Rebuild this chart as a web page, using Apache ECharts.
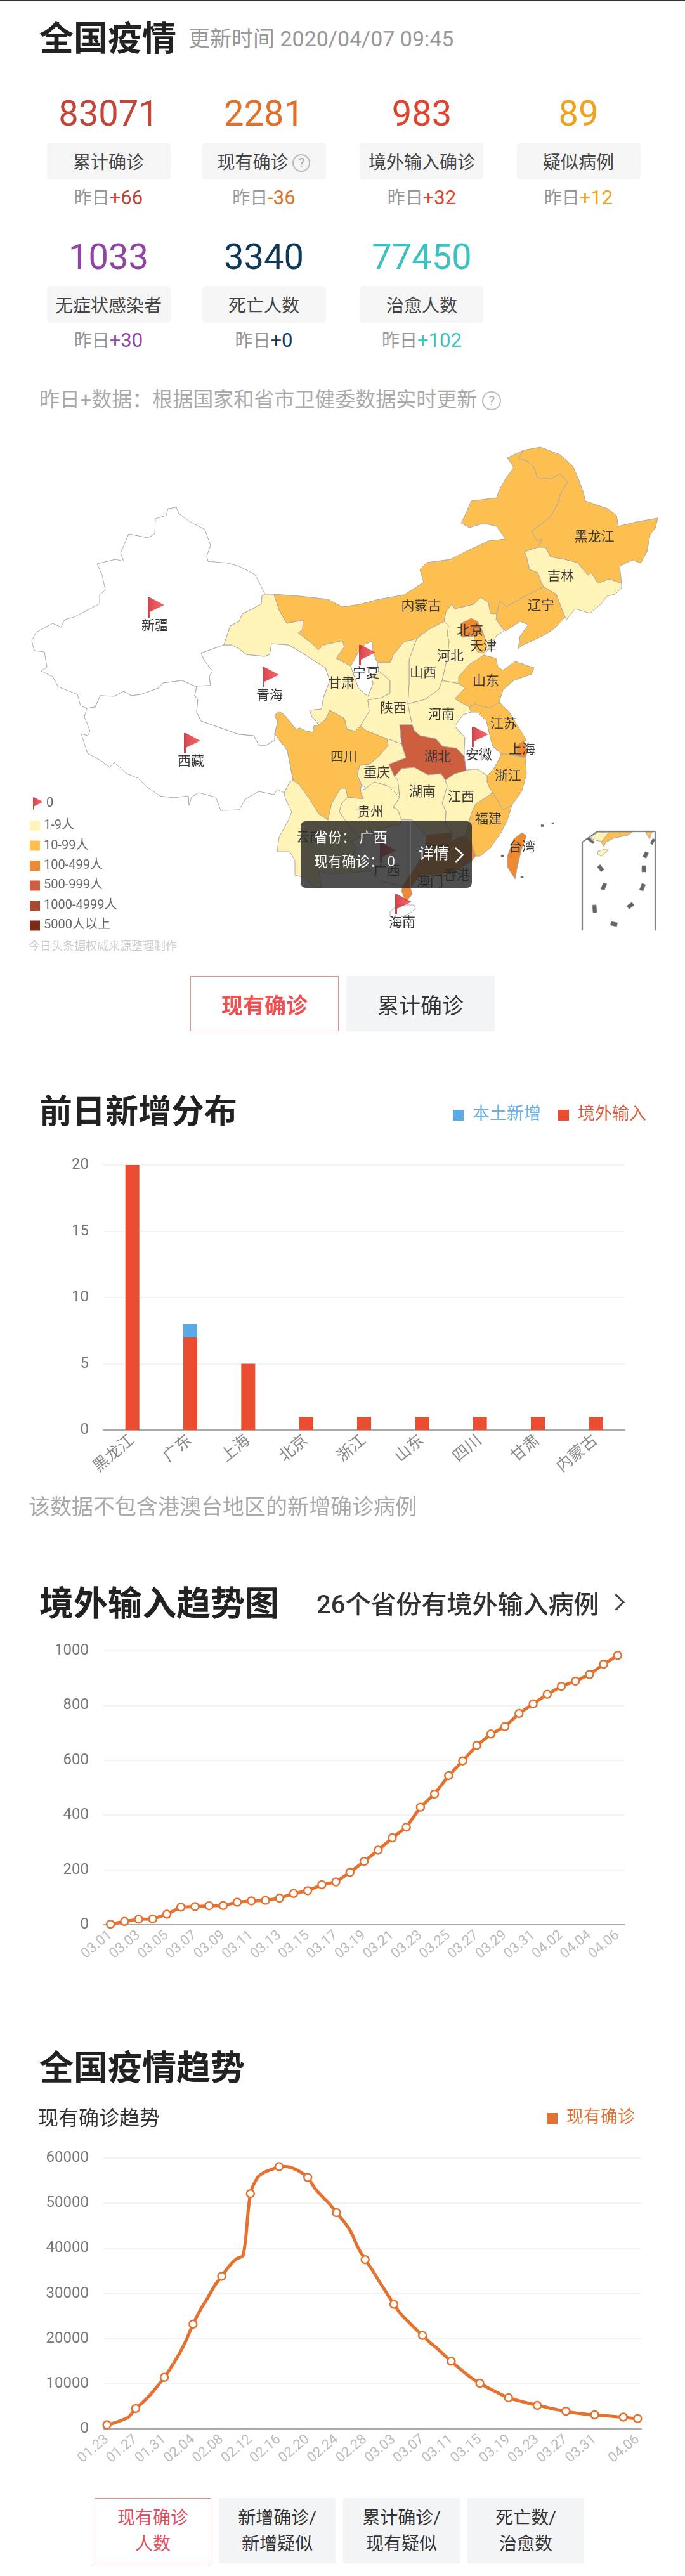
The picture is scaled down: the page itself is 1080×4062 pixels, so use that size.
<!DOCTYPE html>
<html>
<head>
<meta charset="utf-8">
<title>全国疫情</title>
<script src="https://cdn.jsdelivr.net/npm/echarts@6/dist/echarts.min.js"></script>
<style>
    html, body { margin: 0; padding: 0; background: #fff; }
    #page { position: relative; width: 1080px; height: 4062px; overflow: hidden; background: #fff;
        font-family: Roboto, "Noto Sans CJK SC", sans-serif; }
    #page .t { position: absolute; white-space: nowrap; transform: translateY(-50%); z-index: 2; }
    #page .box { position: absolute; box-sizing: border-box; z-index: 2; }
    .chart { position: absolute; left: 0; width: 1080px; }
    #top-line { position: absolute; left: 0; top: 0; width: 1080px; height: 2px; background: #333; }
    .help { display: inline-block; box-sizing: border-box; border: 2px solid #bbb; border-radius: 50%; color: #aaa;
        text-align: center; font-size: 20px; }
    #more-arrow { position: absolute; left: 962px; top: 2517px; width: 16px; height: 16px; z-index: 2;
        border-top: 3px solid #444; border-right: 3px solid #444; transform: rotate(45deg); }
</style>
</head>
<body>
<div id="page">
    <div id="top-line"></div>
    <div id="more-arrow"></div>
    <div class="chart" id="main-map" style="top:680px;height:880px"></div>
    <div class="chart" id="main-bar" style="top:1700px;height:680px"></div>
    <div class="chart" id="main-abroad" style="top:2540px;height:620px"></div>
    <div class="chart" id="main-trend" style="top:3300px;height:630px"></div>
</div>
<script>
// 顶部数字卡片
const cardNumbers = ['83071', '2281', '983', '89', '1033', '3340', '77450'];
const cardLabels = ['累计确诊', '现有确诊', '境外输入确诊', '疑似病例', '无症状感染者', '死亡人数', '治愈人数'];
const cardDeltas = ['+66', '-36', '+32', '+12', '+30', '+0', '+102'];
const cardColors = ['#c0453a', '#de7029', '#e0432e', '#eca321', '#8e46a3', '#0f3a57', '#3fc0c0'];

// 地图：现有确诊（按颜色档位估读）
const mapNames = ['新疆', '西藏', '青海', '甘肃', '宁夏', '内蒙古', '黑龙江', '吉林', '辽宁', '河北', '北京', '天津',
    '山西', '陕西', '山东', '河南', '江苏', '上海', '安徽', '浙江', '江西', '福建', '湖北', '湖南', '重庆', '四川',
    '贵州', '云南', '广西', '广东', '海南', '台湾', '香港', '澳门'];
const mapValues = [0, 0, 0, 3, 0, 35, 60, 2, 12, 8, 150, 20,
    6, 7, 30, 5, 12, 140, 0, 20, 1, 25, 700, 1, 3, 30,
    1, 5, 0, 190, 0, 300, 650, 15];
const legendPieces = [
    { min: 1, max: 9, label: '1-9人', color: '#fff3b8' },
    { min: 10, max: 99, label: '10-99人', color: '#fdbf50' },
    { min: 100, max: 499, label: '100-499人', color: '#ef8a33' },
    { min: 500, max: 999, label: '500-999人', color: '#cd5f3e' },
    { min: 1000, max: 4999, label: '1000-4999人', color: '#a84a2f' },
    { min: 5000, label: '5000人以上', color: '#7c2a12' }
];

// 前日新增分布
const barCategories = ['黑龙江', '广东', '上海', '北京', '浙江', '山东', '四川', '甘肃', '内蒙古'];
const barLocal = [0, 1, 0, 0, 0, 0, 0, 0, 0];
const barAbroad = [20, 7, 5, 1, 1, 1, 1, 1, 1];

// 境外输入趋势
const abroadDates = ['03.01', '03.02', '03.03', '03.04', '03.05', '03.06', '03.07', '03.08', '03.09', '03.10',
    '03.11', '03.12', '03.13', '03.14', '03.15', '03.16', '03.17', '03.18', '03.19', '03.20', '03.21', '03.22',
    '03.23', '03.24', '03.25', '03.26', '03.27', '03.28', '03.29', '03.30', '03.31', '04.01', '04.02', '04.03',
    '04.04', '04.05', '04.06'];
const abroadValues = [2, 12, 20, 21, 38, 64, 66, 69, 70, 82, 87, 89, 97, 114, 124, 146, 156, 191, 231, 272, 317, 356,
    429, 477, 544, 598, 654, 696, 723, 771, 806, 841, 870, 889, 913, 951, 983];

// 全国现有确诊趋势
const trendDates = ['01.23', '01.24', '01.25', '01.26', '01.27', '01.28', '01.29', '01.30', '01.31',
    '02.01', '02.02', '02.03', '02.04', '02.05', '02.06', '02.07', '02.08', '02.09', '02.10', '02.11', '02.12',
    '02.13', '02.14', '02.15', '02.16', '02.17', '02.18', '02.19', '02.20', '02.21', '02.22', '02.23', '02.24',
    '02.25', '02.26', '02.27', '02.28', '02.29', '03.01', '03.02', '03.03', '03.04', '03.05', '03.06', '03.07',
    '03.08', '03.09', '03.10', '03.11', '03.12', '03.13', '03.14', '03.15', '03.16', '03.17', '03.18', '03.19',
    '03.20', '03.21', '03.22', '03.23', '03.24', '03.25', '03.26', '03.27', '03.28', '03.29', '03.30', '03.31',
    '04.01', '04.02', '04.03', '04.04', '04.05', '04.06'];
const trendValues = [900, 1300, 1900, 2600, 4500, 5900, 7500, 9400, 11400,
    13800, 16400, 19500, 23200, 26300, 28900, 31700, 33800, 36000, 37600, 38500, 52100,
    55700, 56900, 57500, 58100, 58100, 57700, 56900, 55700, 53300, 51500, 49900, 47900,
    46000, 43700, 40200, 37500, 35200, 32600, 30100, 27600, 25400, 23800, 22200, 20700,
    19200, 17900, 16400, 15000, 13600, 12300, 11100, 10100, 9200, 8400, 7600, 6900,
    6400, 6000, 5600, 5200, 4900, 4500, 4200, 3900, 3600, 3400, 3200, 3100,
    2950, 2850, 2700, 2600, 2400, 2281];

// 省份轮廓（照着图描的，单位是页面像素，y 向下），cp 是标签位置
const shapes = {
    '新疆': { cp: [244, 988], pts: [[418,937],[402,906],[377,893],[360,888],[328,885],[326,877],[332,860],[323,835],[300,823],[282,810],[278,800],[265,802],[262,813],[245,818],[244,842],[233,848],[203,842],[190,872],[195,885],[182,882],[153,889],[161,907],[166,930],[157,938],[157,952],[117,973],[102,977],[96,989],[83,983],[57,997],[50,1010],[54,1026],[70,1028],[74,1052],[65,1058],[83,1067],[92,1083],[122,1095],[127,1113],[137,1117],[150,1115],[158,1097],[180,1098],[195,1090],[207,1097],[222,1095],[250,1085],[257,1077],[287,1073],[307,1082],[332,1081],[330,1067],[335,1058],[323,1043],[317,1030],[353,1017],[363,987],[377,980],[382,968],[398,960],[412,952],[413,940]] },
    '西藏': { cp: [301, 1202], pts: [[137,1117],[150,1115],[158,1097],[180,1098],[195,1090],[207,1097],[222,1095],[250,1085],[257,1077],[287,1073],[307,1082],[310,1083],[307,1097],[312,1103],[310,1123],[317,1137],[340,1145],[377,1158],[400,1160],[408,1175],[420,1175],[433,1167],[433,1157],[453,1183],[462,1230],[457,1233],[448,1250],[437,1245],[432,1253],[408,1248],[387,1260],[377,1277],[348,1278],[340,1257],[313,1250],[302,1257],[298,1270],[297,1255],[273,1258],[252,1255],[233,1242],[217,1227],[200,1220],[180,1202],[173,1210],[160,1200],[138,1188],[128,1157],[138,1160],[142,1153],[133,1130]] },
    '青海': { cp: [425, 1098], pts: [[353,1017],[365,1017],[377,1023],[388,1032],[417,1035],[425,1032],[428,1015],[455,1017],[477,1030],[513,1053],[520,1073],[510,1100],[507,1118],[488,1120],[492,1130],[503,1143],[495,1145],[493,1155],[480,1152],[473,1148],[467,1150],[448,1127],[440,1122],[433,1128],[438,1138],[433,1157],[433,1167],[420,1175],[408,1175],[400,1160],[377,1158],[340,1145],[317,1137],[310,1123],[312,1103],[307,1097],[310,1083],[307,1082],[332,1081],[330,1067],[335,1058],[323,1043],[317,1030]] },
    '甘肃': { cp: [538, 1079], pts: [[413,940],[418,937],[432,937],[440,962],[452,983],[478,978],[477,993],[470,998],[490,1013],[502,1025],[510,1017],[540,1010],[543,1020],[530,1038],[553,1050],[565,1085],[580,1098],[588,1078],[585,1065],[597,1058],[615,1073],[615,1093],[602,1100],[580,1104],[582,1122],[568,1145],[560,1153],[547,1150],[543,1133],[520,1120],[513,1135],[503,1143],[492,1130],[488,1120],[507,1118],[510,1100],[520,1073],[513,1053],[477,1030],[455,1017],[428,1015],[425,1032],[417,1035],[388,1032],[377,1023],[365,1017],[353,1017],[363,987],[377,980],[382,968],[398,960],[412,952]] },
    '宁夏': { cp: [577, 1063], pts: [[553,1050],[568,1023],[577,1015],[587,1011],[587,1025],[595,1045],[597,1058],[585,1065],[588,1078],[580,1098],[565,1085]] },
    '内蒙古': { cp: [664, 957], pts: [[432,937],[473,940],[517,945],[540,957],[567,953],[597,945],[637,938],[668,918],[662,898],[673,887],[710,882],[740,867],[770,853],[797,850],[783,830],[763,825],[740,832],[727,825],[732,815],[743,790],[783,785],[787,773],[797,755],[810,737],[800,722],[825,710],[818,723],[833,728],[842,737],[847,753],[868,755],[883,747],[895,760],[883,780],[880,793],[868,815],[838,838],[847,853],[855,850],[848,863],[827,870],[830,877],[835,898],[848,903],[853,917],[857,925],[833,937],[798,957],[788,947],[783,968],[773,967],[770,950],[758,942],[747,953],[717,960],[712,953],[703,965],[700,980],[677,992],[657,1007],[637,1012],[620,1033],[615,1045],[595,1045],[587,1025],[587,1011],[577,1015],[568,1023],[553,1050],[530,1038],[543,1020],[540,1010],[510,1017],[502,1025],[490,1013],[470,998],[477,993],[478,978],[452,983],[440,962]] },
    '黑龙江': { cp: [937, 848], pts: [[825,710],[852,705],[883,717],[903,735],[912,755],[920,777],[923,790],[958,802],[972,813],[975,830],[1003,823],[1037,817],[1033,833],[1025,843],[1020,870],[1010,888],[997,883],[977,893],[980,920],[960,913],[943,920],[932,903],[927,907],[910,887],[890,882],[868,878],[860,863],[848,863],[855,850],[847,853],[838,838],[868,815],[880,793],[883,780],[895,760],[883,747],[868,755],[847,753],[842,737],[833,728],[818,723]] },
    '吉林': { cp: [884, 910], pts: [[827,870],[848,863],[860,863],[868,878],[890,882],[910,887],[927,907],[932,903],[943,920],[960,913],[980,920],[980,927],[970,937],[957,940],[947,953],[930,967],[907,960],[893,977],[891,973],[883,953],[877,937],[857,925],[853,917],[848,903],[835,898],[830,877]] },
    '辽宁': { cp: [853, 956], pts: [[857,925],[877,937],[883,953],[891,973],[873,992],[857,1002],[823,1018],[817,1023],[820,1003],[833,985],[820,980],[797,995],[782,977],[783,968],[788,947],[798,957],[833,937]] },
    '河北': { cp: [710, 1036], pts: [[703,965],[712,953],[717,960],[747,953],[758,942],[770,950],[773,967],[783,968],[782,977],[795,995],[783,1002],[773,1020],[763,1033],[758,1037],[740,1048],[730,1063],[723,1078],[697,1073],[705,1037],[708,1012],[705,1000],[707,987],[700,980]] },
    '北京': { cp: [741, 996], pts: [[727,983],[743,975],[753,980],[762,997],[748,1003],[730,1005],[725,997]] },
    '天津': { cp: [762, 1020], pts: [[748,1003],[762,998],[767,1017],[763,1030],[753,1028],[747,1017]] },
    '山西': { cp: [667, 1062], pts: [[657,1007],[677,992],[700,980],[707,987],[705,1000],[708,1012],[705,1037],[697,1073],[692,1087],[670,1103],[643,1110],[645,1077],[645,1040]] },
    '陕西': { cp: [620, 1118], pts: [[595,1045],[615,1045],[620,1033],[637,1012],[657,1007],[645,1040],[645,1077],[643,1110],[650,1143],[633,1143],[632,1157],[630,1172],[610,1165],[577,1152],[568,1145],[582,1122],[580,1104],[602,1100],[615,1093],[615,1073],[597,1058]] },
    '山东': { cp: [766, 1075], pts: [[723,1078],[723,1067],[740,1048],[763,1033],[782,1038],[785,1052],[793,1057],[812,1043],[842,1053],[838,1063],[810,1073],[793,1088],[787,1107],[772,1117],[748,1110],[740,1115],[717,1102],[733,1085]] },
    '河南': { cp: [696, 1128], pts: [[643,1110],[670,1103],[692,1087],[697,1073],[723,1078],[733,1085],[717,1102],[740,1115],[743,1123],[730,1127],[717,1145],[733,1163],[732,1183],[732,1193],[720,1180],[698,1177],[687,1165],[662,1160],[653,1152],[650,1143]] },
    '江苏': { cp: [794, 1143], pts: [[740,1115],[748,1110],[772,1117],[787,1107],[803,1123],[815,1143],[830,1167],[815,1175],[815,1192],[803,1190],[790,1188],[777,1177],[773,1163],[767,1137],[753,1123],[743,1123]] },
    '上海': { cp: [823, 1183], pts: [[815,1175],[826,1168],[832,1185],[828,1195],[815,1192]] },
    '安徽': { cp: [755, 1192], pts: [[743,1123],[753,1123],[767,1137],[773,1163],[777,1177],[790,1188],[788,1195],[778,1213],[768,1223],[753,1213],[743,1213],[735,1215],[732,1193],[732,1183],[733,1163],[717,1145],[730,1127]] },
    '浙江': { cp: [801, 1225], pts: [[790,1188],[803,1190],[815,1192],[828,1195],[830,1220],[823,1247],[807,1270],[793,1277],[777,1250],[772,1243],[768,1233],[768,1223],[778,1213],[788,1195]] },
    '江西': { cp: [727, 1258], pts: [[735,1215],[743,1213],[753,1213],[768,1223],[768,1233],[772,1243],[777,1250],[750,1268],[743,1283],[733,1320],[725,1320],[710,1328],[713,1313],[702,1300],[703,1280],[697,1267],[705,1240],[702,1230],[717,1220]] },
    '福建': { cp: [770, 1293], pts: [[777,1250],[793,1277],[807,1270],[800,1293],[790,1313],[773,1337],[757,1350],[750,1350],[743,1328],[733,1320],[743,1283],[750,1268]] },
    '湖北': { cp: [690, 1195], pts: [[630,1143],[650,1143],[653,1152],[662,1160],[687,1165],[698,1177],[720,1180],[732,1193],[735,1215],[717,1220],[702,1230],[695,1220],[675,1222],[653,1210],[633,1212],[622,1225],[613,1205],[640,1195],[633,1173],[632,1158]] },
    '湖南': { cp: [666, 1250], pts: [[622,1225],[633,1212],[653,1210],[675,1222],[695,1220],[702,1230],[705,1240],[697,1267],[703,1280],[702,1300],[713,1313],[673,1317],[667,1313],[650,1293],[633,1293],[627,1277],[620,1273],[630,1257],[627,1230]] },
    '重庆': { cp: [594, 1220], pts: [[610,1165],[630,1172],[633,1173],[640,1195],[613,1205],[622,1225],[627,1230],[630,1257],[623,1250],[613,1240],[590,1233],[577,1243],[570,1237],[563,1222],[567,1207],[582,1205],[597,1193],[612,1175]] },
    '四川': { cp: [542, 1195], pts: [[433,1157],[438,1138],[433,1128],[440,1122],[448,1127],[467,1150],[473,1148],[480,1152],[493,1155],[495,1145],[503,1143],[513,1135],[520,1120],[543,1133],[547,1150],[560,1153],[568,1145],[577,1152],[610,1165],[612,1175],[597,1193],[582,1205],[567,1207],[563,1222],[570,1237],[568,1247],[573,1260],[548,1257],[545,1243],[537,1243],[523,1267],[517,1293],[502,1283],[488,1260],[472,1238],[462,1230],[453,1183]] },
    '贵州': { cp: [584, 1282], pts: [[548,1257],[573,1260],[568,1247],[577,1243],[590,1233],[613,1240],[623,1250],[630,1257],[620,1273],[627,1277],[633,1293],[630,1300],[613,1303],[587,1313],[567,1320],[553,1307],[547,1297],[535,1280],[538,1268]] },
    '云南': { cp: [488, 1322], pts: [[448,1250],[457,1233],[462,1230],[472,1238],[488,1260],[502,1283],[517,1293],[523,1267],[537,1243],[545,1243],[548,1257],[538,1268],[535,1280],[547,1297],[553,1307],[567,1320],[553,1327],[563,1337],[557,1347],[585,1373],[547,1377],[517,1377],[503,1373],[507,1400],[497,1400],[478,1383],[465,1380],[465,1357],[457,1343],[437,1343],[440,1320],[455,1293],[460,1280],[450,1260]] },
    '广西': { cp: [610, 1375], pts: [[567,1320],[587,1313],[613,1303],[630,1300],[633,1293],[650,1293],[667,1313],[673,1317],[670,1340],[658,1363],[635,1397],[600,1390],[585,1373],[557,1347],[563,1337],[553,1327]] },
    '广东': { cp: [689, 1342], pts: [[673,1317],[713,1313],[710,1328],[725,1320],[733,1320],[743,1328],[750,1350],[743,1358],[725,1370],[697,1377],[675,1380],[660,1383],[647,1400],[650,1410],[640,1422],[633,1405],[635,1397],[658,1363],[670,1340]] },
    '海南': { cp: [634, 1456], pts: [[627,1427],[653,1427],[655,1433],[643,1442],[627,1448],[615,1445],[615,1438]] },
    '台湾': { cp: [823, 1337], pts: [[823,1313],[830,1318],[822,1340],[815,1370],[812,1386],[800,1367],[800,1350],[810,1323]] },
    '香港': { cp: [720, 1382], pts: [[713,1373],[720,1371],[722,1376],[715,1378]] },
    '澳门': { cp: [678, 1392], pts: [[694,1378],[698,1377],[699,1381],[695,1382]] }
};
// 南海小图里的陆地，不显示标签
const insetLand = {
    '小图云南': { value: 5, pts: [[943,1312],[960,1313],[953,1322],[948,1327],[940,1325],[930,1322]] },
    '小图广东': { value: 30, pts: [[960,1312],[997,1312],[990,1317],[967,1322],[955,1328],[952,1335],[948,1328]] },
    '小图台湾': { value: 30, pts: [[1018,1312],[1028,1312],[1024,1323]] },
    '小图海南': { value: 5, pts: [[943,1342],[957,1338],[957,1343],[948,1350],[942,1347]] }
};

// 把线段加粗成细长的多边形，小图的边框和九段线都这样画
function strip(x1, y1, x2, y2, w) {
    let len = Math.hypot(x2 - x1, y2 - y1);
    let nx = -(y2 - y1) / len * w / 2;
    let ny = (x2 - x1) / len * w / 2;
    return [[x1 + nx, y1 + ny], [x2 + nx, y2 + ny], [x2 - nx, y2 - ny], [x1 - nx, y1 - ny]];
}
const insetLines = [
    strip(918, 1467, 918, 1328, 1.5), strip(918, 1328, 942, 1311, 1.5), strip(942, 1311, 1033, 1311, 1.5), strip(1033, 1311, 1033, 1467, 1.5),
    strip(927, 1322, 936, 1329, 4), strip(1027, 1331, 1031, 1323, 4), strip(1016, 1352, 1020, 1344, 6), strip(1015, 1375, 1015, 1365, 6),
    strip(1011, 1404, 1015, 1394, 6), strip(990, 1431, 998, 1425, 6), strip(963, 1456, 973, 1458, 6), strip(937, 1427, 938, 1439, 6),
    strip(950, 1403, 954, 1393, 6), strip(944, 1365, 950, 1373, 6)
];
// 钓鱼岛等小岛
const smallIslands = [strip(853, 1302, 857, 1302, 3), strip(870, 1298, 873, 1298, 2), strip(790, 1350, 794, 1350, 3), strip(821, 1383, 825, 1383, 2)];

// 地图各省的值按名字查，0 的省份插红旗
const flagPath = 'path://M0,0L3,0L26,12L3,23L3,32L0,32Z';
const flagData = mapNames.filter(function (name, i) { return mapValues[i] === 0; }).map(function (name) {
    return { name: name, value: [shapes[name].cp[0], -shapes[name].cp[1], 0] };
});

function toFeature(name, polygons, cp) {
    let rings = polygons.map(function (pts) {
        let ring = pts.map(function (p) { return [p[0], -p[1]]; });
        ring.push(ring[0]);
        return [ring];
    });
    return {
        type: 'Feature',
        properties: cp ? { name: name, cp: [cp[0], -cp[1]] } : { name: name },
        geometry: { type: 'MultiPolygon', coordinates: rings }
    };
}
let features = mapNames.map(function (name) { return toFeature(name, [shapes[name].pts], shapes[name].cp); });
Object.keys(insetLand).forEach(function (name) { features.push(toFeature(name, [insetLand[name].pts])); });
features.push(toFeature('南海诸岛', insetLines.concat(smallIslands)));

// 算出轮廓范围，让 geo 和页面像素一一对应
let allPts = [];
features.forEach(function (f) { f.geometry.coordinates.forEach(function (poly) { allPts = allPts.concat(poly[0]); }); });
const minX = Math.min.apply(null, allPts.map(function (p) { return p[0]; }));
const maxX = Math.max.apply(null, allPts.map(function (p) { return p[0]; }));
const minY = Math.min.apply(null, allPts.map(function (p) { return -p[1]; }));
const maxY = Math.max.apply(null, allPts.map(function (p) { return -p[1]; }));
echarts.registerMap('china-trace', { type: 'FeatureCollection', features: features });

// 页面文字工具
const page = document.getElementById('page');
function addText(text, x, y, size, color, opts) {
    opts = opts || {};
    let el = document.createElement('div');
    el.className = 't';
    el.style.cssText = 'top:' + y + 'px;font-size:' + size + 'px;color:' + color + ';font-weight:' + (opts.weight || 400) + ';' +
        (opts.center ? 'left:' + (x - 200) + 'px;width:400px;text-align:center;' : 'left:' + x + 'px;');
    el.innerHTML = text;
    page.appendChild(el);
    return el;
}
function addBox(x, y, w, h, style) {
    let el = document.createElement('div');
    el.className = 'box';
    el.style.cssText = 'left:' + x + 'px;top:' + y + 'px;width:' + w + 'px;height:' + h + 'px;' + style;
    page.appendChild(el);
}

// --------------------------------------------------顶部标题和卡片
addText('全国疫情', 62, 56, 54, '#222', { weight: 700 });
addText('更新时间 2020/04/07 09:45', 297, 58, 34, '#999');
const cardCenters = [171, 416, 665, 912];
const cardBoxLeft = [74, 319, 567, 815];
const rowNumberY = [179, 405];
const rowBoxY = [225, 451];
const rowDeltaY = [310, 535];
cardNumbers.forEach(function (num, i) {
    let col = i < 4 ? i : i - 4;
    let row = i < 4 ? 0 : 1;
    addText(num, cardCenters[col], rowNumberY[row], 56, cardColors[i], { center: true });
    addBox(cardBoxLeft[col], rowBoxY[row], 195, 58, 'background:#f5f5f5;border-radius:6px;');
    let help = cardLabels[i] === '现有确诊'
        ? ' <span class="help" style="width:28px;height:28px;line-height:24px;vertical-align:2px">?</span>' : '';
    addText(cardLabels[i] + help, cardCenters[col], rowBoxY[row] + 29, 28, '#444', { center: true });
    addText('昨日<span style="font-size:31px;color:' + cardColors[i] + '">' + cardDeltas[i] + '</span>', cardCenters[col], rowDeltaY[row], 28, '#999', { center: true });
});
addText('昨日+数据：根据国家和省市卫健委数据实时更新 <span class="help" style="width:30px;height:30px;line-height:26px;vertical-align:2px">?</span>', 62, 627, 32, '#aaa');

// 地图下方按钮
addBox(300, 1539, 234, 87, 'border:1px solid #e89098;');
addText('现有确诊', 417, 1583, 34, '#f05050', { center: true, weight: 700 });
addBox(546, 1539, 234, 87, 'background:#f3f4f6;');
addText('累计确诊', 663, 1583, 34, '#333', { center: true });
addText('今日头条据权威来源整理制作', 45, 1490, 18, '#ccc');

// 分区标题
addText('前日新增分布', 62, 1748, 52, '#222', { weight: 700 });
addText('该数据不包含港澳台地区的新增确诊病例', 45, 2373, 34, '#aaa');
addText('境外输入趋势图', 62, 2524, 54, '#222', { weight: 700 });
addText('26个省份有境外输入病例', 499, 2527, 40, '#333', { weight: 500 });
addText('全国疫情趋势', 62, 3256, 54, '#222', { weight: 700 });
addText('现有确诊趋势', 60, 3337, 32, '#333');

// 底部切换按钮
const tabLines = [['现有确诊', '人数'], ['新增确诊/', '新增疑似'], ['累计确诊/', '现有疑似'], ['死亡数/', '治愈数']];
const tabLeft = [149, 345, 541, 737];
tabLines.forEach(function (lines, i) {
    addBox(tabLeft[i], 3939, 184, 103, i === 0 ? 'border:1px solid #e89098;' : 'background:#f3f4f6;');
    addText(lines[0], tabLeft[i] + 92, 3968, 28, i === 0 ? '#e05060' : '#333', { center: true });
    addText(lines[1], tabLeft[i] + 92, 4009, 28, i === 0 ? '#e05060' : '#333', { center: true });
});

const fontFamily = 'Roboto, "Noto Sans CJK SC", sans-serif';
// y 轴数字不要千分位
function plainNumber(value) {
    return String(value);
}

// --------------------------------------------------疫情地图
var myChartMap = echarts.init(document.getElementById('main-map'));
const mapTop = 680;
let optionMap = {
    animation: false,
    textStyle: { fontFamily: fontFamily },
    geo: {
        map: 'china-trace',
        roam: false,
        silent: true,
        aspectScale: 1,
        left: minX,
        top: minY - mapTop,
        width: maxX - minX,
        height: maxY - minY,
        itemStyle: { areaColor: '#fff', borderColor: '#a9a9a9', borderWidth: 1 },
        label: { show: true, fontSize: 21, color: '#3a3a3a' },
        regions: Object.keys(insetLand).map(function (name) {
            return { name: name, label: { show: false } };
        }).concat([{
            name: '南海诸岛',
            label: { show: false },
            itemStyle: { areaColor: '#666', borderColor: '#777', borderWidth: 0.5 }
        }])
    },
    legend: {
        left: 47,
        top: 572,
        itemWidth: 16,
        itemHeight: 20,
        selectedMode: false,
        textStyle: { color: '#666', fontSize: 20 },
        data: [{ name: '0', icon: flagPath }]
    },
    visualMap: {
        type: 'piecewise',
        seriesIndex: 0,
        left: 47,
        top: 612,
        padding: 0,
        inverse: true,
        itemWidth: 16,
        itemHeight: 16,
        itemGap: 11.5,
        textGap: 6,
        itemSymbol: 'rect',
        selectedMode: false,
        hoverLink: false,
        textStyle: { color: '#666', fontSize: 20 },
        pieces: legendPieces,
        outOfRange: { color: '#fff' }
    },
    series: [
        {
            type: 'map',
            geoIndex: 0,
            data: mapNames.map(function (name, i) {
                return { name: name, value: mapValues[i] };
            }).concat(Object.keys(insetLand).map(function (name) {
                return { name: name, value: insetLand[name].value };
            }))
        },
        {
            name: '0',
            type: 'scatter',
            coordinateSystem: 'geo',
            geoIndex: 0,
            silent: true,
            symbol: flagPath,
            symbolSize: [26, 32],
            symbolOffset: [2, -30],
            z: 5,
            itemStyle: {
                color: new echarts.graphic.LinearGradient(0, 0, 1, 0, [
                    { offset: 0, color: '#b5141c' },
                    { offset: 0.18, color: '#d5202a' },
                    { offset: 1, color: '#f2444a' }
                ])
            },
            data: flagData
        }
    ],
    // 广西上的浮层
    graphic: {
        elements: [
            { type: 'rect', z: 100, shape: { x: 474, y: 615, width: 270, height: 105, r: 8 }, style: { fill: 'rgba(40,40,40,0.82)' } },
            { type: 'line', z: 101, shape: { x1: 647, y1: 615, x2: 647, y2: 720 }, style: { stroke: 'rgba(255,255,255,0.25)', lineWidth: 1 } },
            { type: 'text', z: 101, x: 495, y: 642, style: { text: '省份： 广西', fill: '#fff', fontSize: 22, fontFamily: fontFamily, verticalAlign: 'middle' } },
            { type: 'text', z: 101, x: 495, y: 680, style: { text: '现有确诊： 0', fill: '#fff', fontSize: 22, fontFamily: fontFamily, verticalAlign: 'middle' } },
            { type: 'text', z: 101, x: 660, y: 668, style: { text: '详情', fill: '#fff', fontSize: 24, fontFamily: fontFamily, verticalAlign: 'middle' } },
            { type: 'polyline', z: 101, shape: { points: [[718, 657], [730, 668], [718, 680]] }, style: { stroke: '#fff', lineWidth: 2.5, fill: 'none' } }
        ]
    }
};
myChartMap.setOption(optionMap);

// --------------------------------------------------前日新增分布柱状图
var myChartBar = echarts.init(document.getElementById('main-bar'));
let optionBar = {
    animation: false,
    textStyle: { fontFamily: fontFamily },
    legend: {
        left: 709,
        top: 40,
        itemWidth: 17,
        itemHeight: 17,
        itemGap: 27,
        icon: 'rect',
        selectedMode: false,
        textStyle: { fontSize: 27, padding: [0, 0, 0, 9] },
        data: [
            { name: '本土新增', textStyle: { color: '#6ab0e8' } },
            { name: '境外输入', textStyle: { color: '#e2563c' } }
        ]
    },
    grid: { left: 163, right: 95, top: 137, bottom: 125 },
    xAxis: {
        type: 'category',
        data: barCategories,
        axisTick: { show: false },
        axisLine: { lineStyle: { color: '#aaa', width: 2 } },
        axisLabel: { interval: 0, rotate: 40, fontSize: 25, color: '#888', margin: 14 }
    },
    yAxis: {
        type: 'value',
        min: 0,
        max: 20,
        interval: 5,
        axisLine: { show: false },
        axisTick: { show: false },
        axisLabel: { fontSize: 24, color: '#777', margin: 23, padding: [0, 0, 9, 0], formatter: plainNumber },
        splitLine: { lineStyle: { color: '#f3f3f3', width: 2 } }
    },
    series: [
        { name: '境外输入', type: 'bar', stack: 'total', barWidth: 22, itemStyle: { color: '#ea4d30' }, data: barAbroad },
        { name: '本土新增', type: 'bar', stack: 'total', barWidth: 22, itemStyle: { color: '#5aaae6' }, data: barLocal }
    ]
};
myChartBar.setOption(optionBar);

// --------------------------------------------------境外输入趋势折线图
var myChartAbroad = echarts.init(document.getElementById('main-abroad'));
let optionAbroad = {
    animation: false,
    textStyle: { fontFamily: fontFamily },
    grid: { left: 163, right: 95, top: 63, bottom: 125 },
    xAxis: {
        type: 'category',
        data: abroadDates,
        axisTick: { show: false },
        axisLine: { lineStyle: { color: '#aaa', width: 2 } },
        axisLabel: { interval: 1, rotate: 40, fontSize: 22, color: '#bbb', margin: 14 }
    },
    yAxis: {
        type: 'value',
        min: 0,
        max: 1000,
        interval: 200,
        axisLine: { show: false },
        axisTick: { show: false },
        axisLabel: { fontSize: 24, color: '#777', margin: 23, padding: [0, 0, 9, 0], formatter: plainNumber },
        splitLine: { lineStyle: { color: '#f3f3f3', width: 2 } }
    },
    series: [{
        type: 'line',
        data: abroadValues,
        symbol: 'circle',
        symbolSize: 12,
        showAllSymbol: true,
        lineStyle: { color: '#e37230', width: 5 },
        itemStyle: { color: '#fff', borderColor: '#e37230', borderWidth: 2.5 }
    }]
};
myChartAbroad.setOption(optionAbroad);

// --------------------------------------------------全国现有确诊趋势折线图
var myChartTrend = echarts.init(document.getElementById('main-trend'));
const lastTrend = trendDates.length - 1;
let optionTrend = {
    animation: false,
    textStyle: { fontFamily: fontFamily },
    legend: {
        left: 857,
        top: 22,
        itemWidth: 17,
        itemHeight: 17,
        icon: 'rect',
        selectedMode: false,
        itemStyle: { color: '#e37230', borderWidth: 0 },
        textStyle: { fontSize: 27, color: '#e37230', padding: [0, 0, 0, 9] },
        data: ['现有确诊']
    },
    grid: { left: 163, right: 69, top: 103, bottom: 100 },
    xAxis: {
        type: 'category',
        data: trendDates,
        axisTick: { show: false },
        axisLine: { lineStyle: { color: '#aaa', width: 2 } },
        axisLabel: {
            rotate: 40,
            fontSize: 22,
            color: '#bbb',
            margin: 14,
            interval: function (index) {
                return (index % 4 === 0 && index !== 72) || index === lastTrend;
            }
        }
    },
    yAxis: {
        type: 'value',
        min: 0,
        max: 60000,
        interval: 10000,
        axisLine: { show: false },
        axisTick: { show: false },
        axisLabel: { fontSize: 24, color: '#777', margin: 23, padding: [0, 0, 9, 0], formatter: plainNumber },
        splitLine: { lineStyle: { color: '#f3f3f3', width: 2 } }
    },
    series: [{
        name: '现有确诊',
        type: 'line',
        smooth: 0.3,
        data: trendValues,
        showAllSymbol: true,
        symbol: function (value, params) {
            return params.dataIndex % 4 === 0 || params.dataIndex === lastTrend ? 'circle' : 'none';
        },
        symbolSize: 12,
        lineStyle: { color: '#e37230', width: 5 },
        itemStyle: { color: '#fff', borderColor: '#e37230', borderWidth: 2.5 }
    }]
};
myChartTrend.setOption(optionTrend);
</script>
</body>
</html>
